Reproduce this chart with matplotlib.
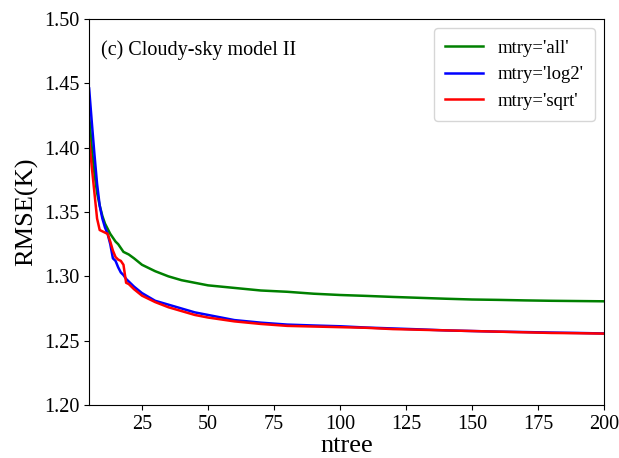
import matplotlib
matplotlib.use('Agg')
from matplotlib import pyplot as plt

plt.rcParams['font.family'] = ['Liberation Serif', 'DejaVu Serif']
plt.rcParams['mathtext.fontset'] = 'stix'

ntree = [5, 6, 7, 8, 9, 10, 11, 12, 13, 14, 15, 16, 17, 18, 19, 20, 22, 25, 30, 35,
         40, 45, 50, 60, 70, 80, 90, 100, 110, 120, 130, 140, 150, 160, 170, 180, 190, 200]

rmse_all = [1.425, 1.400, 1.380, 1.365, 1.355, 1.347, 1.341, 1.337, 1.333, 1.330, 1.327,
            1.325, 1.322, 1.319, 1.318, 1.317, 1.314, 1.309, 1.304, 1.300,
            1.297, 1.295, 1.293, 1.291, 1.289, 1.288, 1.2865, 1.2855, 1.2848, 1.284,
            1.2833, 1.2826, 1.282, 1.2817, 1.2813, 1.281, 1.2808, 1.2806]

rmse_log2 = [1.446, 1.420, 1.395, 1.372, 1.355, 1.345, 1.338, 1.333, 1.325, 1.314, 1.312,
             1.307, 1.303, 1.301, 1.298, 1.296, 1.292, 1.287, 1.281, 1.278,
             1.275, 1.272, 1.270, 1.266, 1.264, 1.2625, 1.2618, 1.2612, 1.2602, 1.2595,
             1.2588, 1.258, 1.2575, 1.257, 1.2567, 1.2563, 1.256, 1.2556]

rmse_sqrt = [1.407, 1.385, 1.365, 1.345, 1.336, 1.335, 1.334, 1.333, 1.327, 1.320, 1.315,
             1.313, 1.312, 1.309, 1.295, 1.294, 1.290, 1.285, 1.280, 1.276,
             1.273, 1.270, 1.268, 1.265, 1.263, 1.2615, 1.261, 1.2605, 1.260, 1.259,
             1.2585, 1.258, 1.2575, 1.257, 1.2565, 1.256, 1.2558, 1.2555]

fig = plt.figure(figsize=(6.19, 4.58), dpi=100)
ax = fig.add_axes([0.144, 0.1157, 0.832, 0.8428])

ax.plot(ntree, rmse_all, color='green', lw=1.8, label="mtry='all'")
ax.plot(ntree, rmse_log2, color='blue', lw=1.8, label="mtry='log2'")
ax.plot(ntree, rmse_sqrt, color='red', lw=1.8, label="mtry='sqrt'")

ax.set_xlim(5, 200)
ax.set_ylim(1.20, 1.50)
ax.set_xticks([25, 50, 75, 100, 125, 150, 175, 200])
ax.set_yticks([1.20, 1.25, 1.30, 1.35, 1.40, 1.45, 1.50])
ax.set_yticklabels(['%.2f' % v for v in [1.20, 1.25, 1.30, 1.35, 1.40, 1.45, 1.50]])
ax.tick_params(labelsize=14.5)
ax.set_xlabel('ntree', fontsize=19, labelpad=1)
ax.set_ylabel('RMSE(K)', fontsize=19)
ax.text(0.023, 0.945, '(c) Cloudy-sky model II', transform=ax.transAxes,
        fontsize=14.5, va='top')
ax.legend(loc='upper right', fontsize=13.5, handlelength=2.0, borderpad=0.6)

plt.savefig('out.png', dpi=100)
